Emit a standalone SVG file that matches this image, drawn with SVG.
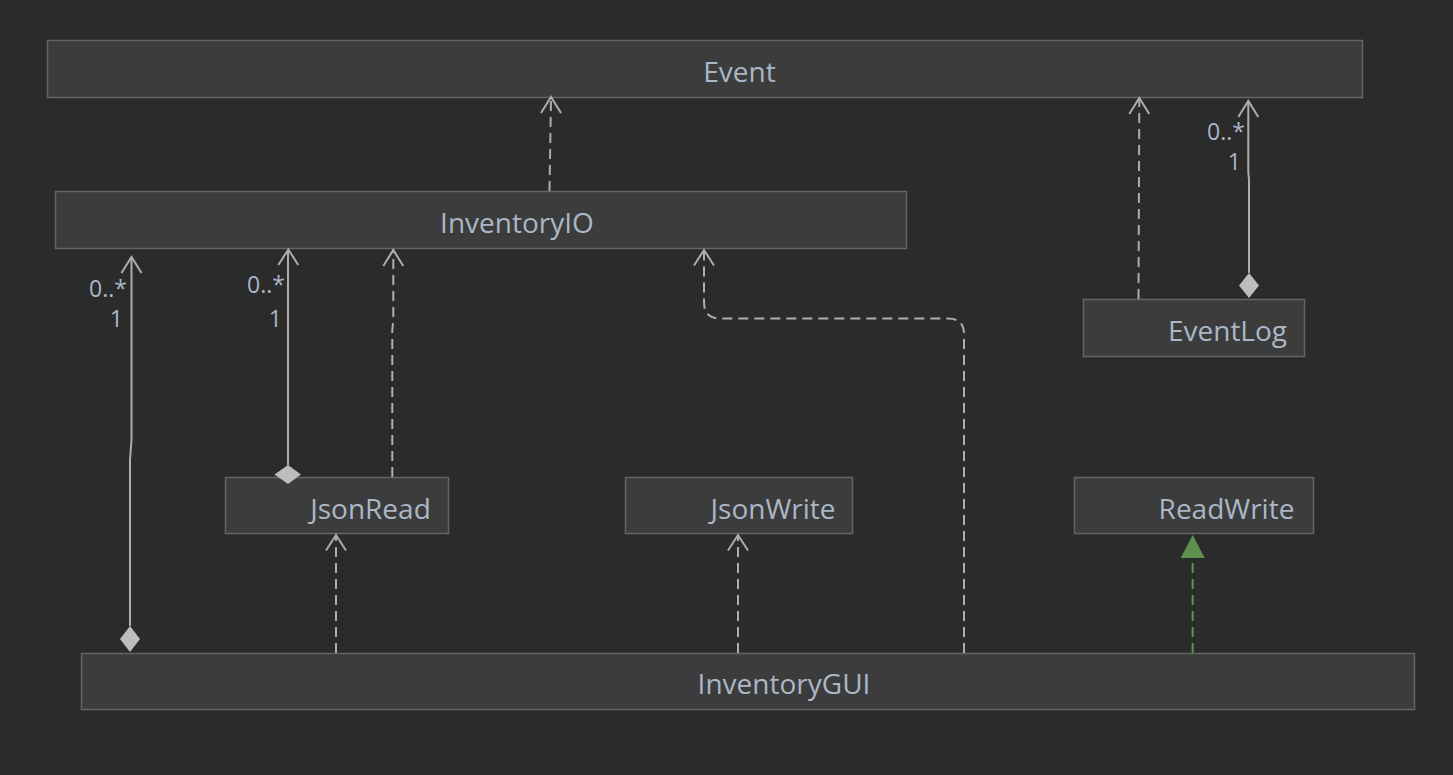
<svg xmlns="http://www.w3.org/2000/svg" width="1453" height="775" viewBox="0 0 1453 775">
<style>
.box{fill:#3c3c3c;stroke:#646464;stroke-width:1.5}
.name{font-family:"Open Sans","Noto Sans",sans-serif;font-size:28px;fill:#a9b7c6;text-anchor:middle}
.lbl{font-family:"Open Sans","Noto Sans",sans-serif;font-size:23px;fill:#a9b7c6;text-anchor:end}
.ln{fill:none;stroke:#adadad;stroke-width:2}
.dash{stroke-dasharray:10 6}
.head{fill:none;stroke:#adadad;stroke-width:2;stroke-linejoin:miter}
.dia{fill:#bdbdbd}
</style>
<rect width="1453" height="775" fill="#2b2b2b"/>
<g id="Event"><rect class="box" x="47.5" y="40.5" width="1315" height="57"/><text class="name" x="739.5" y="82">Event</text></g>
<g id="InventoryIO"><rect class="box" x="55.5" y="191.5" width="851" height="57"/><text class="name" x="517" y="233">InventoryIO</text></g>
<g id="EventLog"><rect class="box" x="1083.5" y="299.5" width="221" height="57"/><text class="name" x="1227.5" y="341">EventLog</text></g>
<g id="JsonRead"><rect class="box" x="225.5" y="477.5" width="223" height="56"/><text class="name" x="370.5" y="519">JsonRead</text></g>
<g id="JsonWrite"><rect class="box" x="625.5" y="477.5" width="227" height="56"/><text class="name" x="773" y="519">JsonWrite</text></g>
<g id="ReadWrite"><rect class="box" x="1074.5" y="477.5" width="239" height="56"/><text class="name" x="1226.5" y="519">ReadWrite</text></g>
<g id="InventoryGUI"><rect class="box" x="81.5" y="653.5" width="1333" height="56"/><text class="name" x="784" y="694">InventoryGUI</text></g>
<g id="connectors">
<path class="ln dash" d="M549.5 191 L551 99"/>
<path class="head" d="M541 113 L551 97 L561 113"/>
<path class="ln dash" d="M1138.5 299 L1139.3 100"/>
<path class="head" d="M1129.3 114 L1139.3 98 L1149.3 114"/>
<path class="ln" d="M1249 273 L1249 180 L1248.3 172 L1248.3 102"/>
<path class="head" d="M1238.3 117 L1248.3 101 L1258.3 117"/>
<path class="dia" d="M1249 273 L1259 285.5 L1249 298 L1239 285.5 Z"/>
<text class="lbl" x="1245" y="140">0..*</text>
<text class="lbl" x="1241" y="170">1</text>
<path class="ln" d="M130 626 L130 460 L131.5 440 L131.5 258"/>
<path class="head" d="M121.5 273 L131.5 257 L141.5 273"/>
<path class="dia" d="M130 626 L140 639 L130 652 L120 639 Z"/>
<text class="lbl" x="127" y="297">0..*</text>
<text class="lbl" x="123" y="327">1</text>
<path class="ln" d="M288 465 L288 251"/>
<path class="head" d="M278.3 265 L288.3 249.5 L298.3 265"/>
<path class="dia" d="M288 465 L301 474.5 L288 484 L274.5 474.5 Z"/>
<text class="lbl" x="285" y="293">0..*</text>
<text class="lbl" x="282" y="327">1</text>
<path class="ln dash" d="M392.3 477 L392.3 330 L393.3 320 L393.3 252"/>
<path class="head" d="M383.3 266 L393.3 250 L403.3 266"/>
<path class="ln dash" d="M336 653 L336 537"/>
<path class="head" d="M326 550.5 L336 535 L346 550.5"/>
<path class="ln dash" d="M738 653 L738 537"/>
<path class="head" d="M728 550.5 L738 535 L748 550.5"/>
<path class="ln dash" d="M964 653 L964 334 Q964 318.5 948 318.5 L720 318.5 Q704 318.5 704 302 L704 252"/>
<path class="head" d="M694 265.5 L704 250 L714 265.5"/>
<path class="ln dash" d="M1192.7 653 L1192.7 558" style="stroke:#5e9150"/>
<path d="M1192.7 535 L1204.7 558 L1180.7 558 Z" fill="#5e9150"/>
</g>
</svg>
